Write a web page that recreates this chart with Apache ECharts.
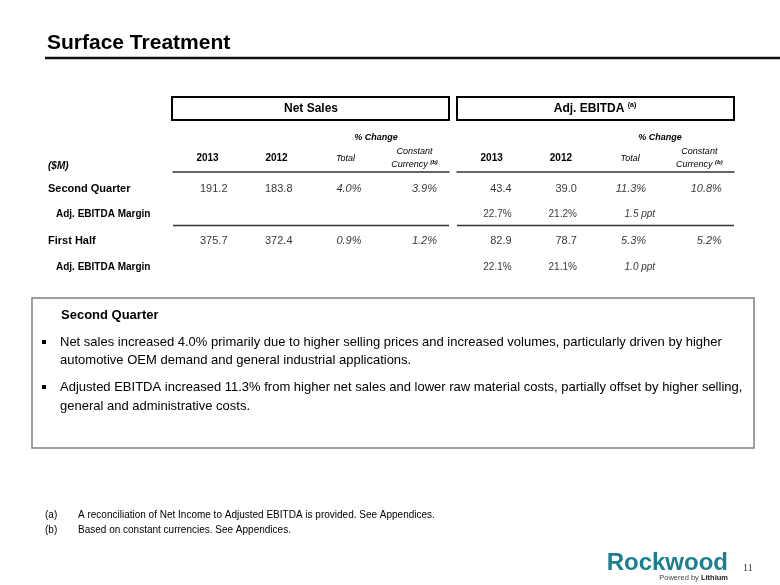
<!DOCTYPE html>
<html>
<head>
<meta charset="utf-8">
<script src="https://cdn.jsdelivr.net/npm/echarts@6/dist/echarts.min.js"></script>
<style>
  html, body { margin: 0; padding: 0; background: #fff; }
  #main { width: 780px; height: 585px; }
</style>
</head>
<body>
<div id="main"></div>
<script>
// ---------- DATA ----------
const rowLabels = ['Second Quarter', 'Adj. EBITDA Margin', 'First Half', 'Adj. EBITDA Margin'];
const periodRows = [0, 2];   // rows holding Second Quarter / First Half
const marginRows = [1, 3];   // rows holding Adj. EBITDA Margin
const columnLabels = ['2013', '2012', 'Total', 'Constant Currency'];

const netSales2013 = [191.2, 375.7];
const netSales2012 = [183.8, 372.4];
const netSalesChangeTotal = [4.0, 0.9];
const netSalesChangeConstant = [3.9, 1.2];

const ebitda2013 = [43.4, 82.9];
const ebitda2012 = [39.0, 78.7];
const ebitdaChangeTotal = [11.3, 5.3];
const ebitdaChangeConstant = [10.8, 5.2];

const margin2013 = [22.7, 22.1];
const margin2012 = [21.2, 21.1];
const marginChangePpt = [1.5, 1.0];

// ---------- STYLE / LAYOUT ----------
const FONT = '"Liberation Sans", Arial, Helvetica, sans-serif';
const colRightOffset = [20, 16, 16, 22.5];  // label right edge relative to column centre
const pptOffset = 25;

function cellData(columns, withMargins) {
  const out = [];
  columns.forEach((arr, c) => {
    arr.forEach((v, k) => {
      const pct = c >= 2;
      out.push({
        name: v.toFixed(1) + (pct ? '%' : ''),
        value: [c, periodRows[k]],
        label: {
          align: 'right',
          offset: [colRightOffset[c], 0],
          fontSize: 11,
          fontStyle: pct ? 'italic' : 'normal'
        }
      });
    });
  });
  if (withMargins) {
    [margin2013, margin2012].forEach((arr, c) => {
      arr.forEach((v, k) => {
        out.push({
          name: v.toFixed(1) + '%',
          value: [c, marginRows[k]],
          label: { align: 'right', offset: [colRightOffset[c], 0], fontSize: 10, fontStyle: 'normal' }
        });
      });
    });
    marginChangePpt.forEach((v, k) => {
      out.push({
        name: v.toFixed(1) + ' ppt',
        value: [2, marginRows[k]],
        label: { align: 'right', offset: [pptOffset, 0], fontSize: 10, fontStyle: 'italic' }
      });
    });
  }
  return out;
}

const headerRich = {
  yr: { fontFamily: FONT, fontWeight: 'bold', fontSize: 10, color: '#000', lineHeight: 13 },
  it: { fontFamily: FONT, fontStyle: 'italic', fontSize: 9, color: '#000', lineHeight: 13 },
  sup: { fontFamily: FONT, fontStyle: 'italic', fontWeight: 'bold', fontSize: 6, color: '#000', lineHeight: 13, padding: [0, 0, 5, 0] }
};
function headerFormatter(v, i) {
  if (i < 2) return '{yr|' + v + '}';
  if (i === 2) return '{it|' + v + '}';
  const parts = v.split(' ');
  return '{it|' + parts[0] + '}\n{it|' + parts[1] + ' }{sup|(b)}';
}

const gridTop = 175.5, gridHeight = 104.4;
const grids = [
  { left: 173, top: gridTop, width: 276, height: gridHeight },
  { left: 457, top: gridTop, width: 277, height: gridHeight }
];

function xAxisFor(gi) {
  return {
    type: 'category', gridIndex: gi, position: 'top', offset: 3.5,
    data: columnLabels,
    axisLine: { show: true, lineStyle: { color: '#333', width: 1.5 } },
    axisTick: { show: false },
    axisLabel: { interval: 0, margin: 14, verticalAlign: 'middle', formatter: headerFormatter, rich: headerRich },
    splitLine: { show: false }
  };
}
function yAxisFor(gi) {
  return {
    type: 'category', gridIndex: gi, inverse: true,
    data: rowLabels,
    axisLine: { show: false }, axisTick: { show: false },
    splitLine: { show: false },
    axisLabel: {
      show: gi === 0, interval: 0, align: 'left', margin: 125,
      formatter: (v, i) => (i % 2 === 0 ? '{main|' + v + '}' : '{sub|' + v + '}'),
      rich: {
        main: { fontFamily: FONT, fontWeight: 'bold', fontSize: 11, color: '#000' },
        sub: { fontFamily: FONT, fontWeight: 'bold', fontSize: 10, color: '#000', padding: [0, 0, 0, 8] }
      }
    }
  };
}

function cellSeries(gi, columns, withMargins) {
  return {
    type: 'scatter', xAxisIndex: gi, yAxisIndex: gi,
    symbolSize: 0, silent: true, animation: false,
    data: cellData(columns, withMargins),
    label: {
      show: true, position: 'inside', color: '#000', fontFamily: FONT,
      formatter: (p) => p.name
    },
    emphasis: { disabled: true }
  };
}

const T = (x, y, text, font, extra) => ({
  type: 'text', x: x, y: y, silent: true,
  style: Object.assign({ text: text, font: font, fill: '#000', textVerticalAlign: 'middle' }, extra || {})
});

const bodyFont = '13px ' + FONT;
const graphics = [
  T(47, 43, 'Surface Treatment', 'bold 21px ' + FONT),
  { type: 'line', silent: true, shape: { x1: 45, y1: 58, x2: 780, y2: 58 }, style: { stroke: '#111', lineWidth: 2.5 } },

  { type: 'rect', silent: true, shape: { x: 172, y: 97, width: 277, height: 23 }, style: { fill: 'none', stroke: '#000', lineWidth: 2 } },
  T(311, 108.5, 'Net Sales', 'bold 12px ' + FONT, { textAlign: 'center' }),
  { type: 'rect', silent: true, shape: { x: 457, y: 97, width: 277, height: 23 }, style: { fill: 'none', stroke: '#000', lineWidth: 2 } },
  { type: 'text', x: 595, y: 108.5, silent: true, style: {
      text: '{t|Adj. EBITDA }{s|(a)}', textAlign: 'center', textVerticalAlign: 'middle',
      rich: { t: { font: 'bold 12px ' + FONT, fill: '#000' }, s: { font: 'bold 7px ' + FONT, fill: '#000', padding: [0, 0, 7, 0] } } } },

  T(376, 138, '% Change', 'italic bold 9px ' + FONT, { textAlign: 'center' }),
  T(660, 138, '% Change', 'italic bold 9px ' + FONT, { textAlign: 'center' }),
  T(48, 166, '($M)', 'italic bold 10px ' + FONT),

  { type: 'rect', silent: true, shape: { x: 32, y: 298, width: 722, height: 150 }, style: { fill: 'none', stroke: '#808080', lineWidth: 1.5 } },
  T(61, 315, 'Second Quarter', 'bold 13px ' + FONT),
  { type: 'rect', silent: true, shape: { x: 42, y: 340, width: 4, height: 4 }, style: { fill: '#000' } },
  T(60, 342, 'Net sales increased 4.0% primarily due to higher selling prices and increased volumes, particularly driven by higher', bodyFont),
  T(60, 360, 'automotive OEM demand and general industrial applications.', bodyFont),
  { type: 'rect', silent: true, shape: { x: 42, y: 385, width: 4, height: 4 }, style: { fill: '#000' } },
  T(60, 387, 'Adjusted EBITDA increased 11.3% from higher net sales and lower raw material costs, partially offset by higher selling,', bodyFont),
  T(60, 406, 'general and administrative costs.', bodyFont),

  T(45, 515, '(a)', '10px ' + FONT),
  T(78, 515, 'A reconciliation of Net Income to Adjusted EBITDA is provided. See Appendices.', '10px ' + FONT),
  T(45, 530, '(b)', '10px ' + FONT),
  T(78, 530, 'Based on constant currencies. See Appendices.', '10px ' + FONT),

  T(728, 563, 'Rockwood', 'bold 24px ' + FONT, { textAlign: 'right', fill: '#1a7f8e' }),
  { type: 'text', x: 728, y: 578, silent: true, style: {
      text: '{a|Powered by }{b|Lithium}', textAlign: 'right', textVerticalAlign: 'middle',
      rich: { a: { font: '7.5px ' + FONT, fill: '#444' }, b: { font: 'bold 7.5px ' + FONT, fill: '#222' } } } },
  T(743, 568, '11', '10px "Liberation Serif", "DejaVu Serif", serif', { fill: '#333' })
];

const chart = echarts.init(document.getElementById('main'), null, { renderer: 'canvas' });
chart.setOption({
  animation: false,
  backgroundColor: '#fff',
  textStyle: { fontFamily: FONT },
  grid: grids,
  xAxis: [xAxisFor(0), xAxisFor(1)],
  yAxis: [yAxisFor(0), yAxisFor(1)],
  series: [
    cellSeries(0, [netSales2013, netSales2012, netSalesChangeTotal, netSalesChangeConstant], false),
    cellSeries(1, [ebitda2013, ebitda2012, ebitdaChangeTotal, ebitdaChangeConstant], true)
  ],
  graphic: graphics
});

// separator between the Second Quarter block and the First Half block, placed via the axis scale
const sepLines = grids.map((g, gi) => {
  const yA = chart.convertToPixel({ yAxisIndex: gi }, marginRows[0]);
  const yB = chart.convertToPixel({ yAxisIndex: gi }, periodRows[1]);
  const y = yA + (yB - yA) * 0.42;
  return { type: 'line', silent: true, shape: { x1: g.left, y1: y, x2: g.left + g.width, y2: y }, style: { stroke: '#333', lineWidth: 1.5 } };
});
chart.setOption({ graphic: graphics.concat(sepLines) });
</script>
</body>
</html>
